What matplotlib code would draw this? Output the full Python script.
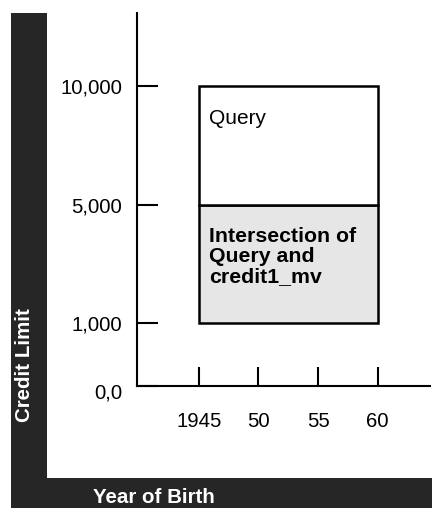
import numpy as np
import matplotlib
matplotlib.use("Agg")
import matplotlib.pyplot as plt
from matplotlib.patches import Rectangle
from matplotlib.transforms import ScaledTranslation

plt.rcParams['font.family'] = ['Liberation Sans', 'DejaVu Sans']

# ---- data ----
credit_levels = [0, 1000, 5000, 10000]
credit_labels = ["0,0", "1,000", "5,000", "10,000"]
year_ticks = [1945, 1950, 1955, 1960]
year_labels = ["1945", "50", "55", "60"]
query_years = (1945, 1960)
query_credit = (5000, 10000)
intersect_credit = (1000, 5000)
query_label = "Query"
intersect_label = "Intersection of\nQuery and\ncredit1_mv"
ylabel = "Credit Limit"
xlabel = "Year of Birth"

# ---- non-linear (ordinal-like) credit scale ----
level_pos = np.array([0.0, 0.53, 1.52, 2.52])
lv = np.array(credit_levels, float)


def fwd(v):
    v = np.asarray(v, float)
    return np.where(v <= lv[-1], np.interp(v, lv, level_pos),
                    level_pos[-1] + (v - lv[-1]) / 5000.0)


def inv(p):
    p = np.asarray(p, float)
    return np.where(p <= level_pos[-1], np.interp(p, level_pos, lv),
                    lv[-1] + (p - level_pos[-1]) * 5000.0)


W, H = 432, 508
fig = plt.figure(figsize=(W / 100, H / 100), dpi=100)
band = '#262626'

# black label bands
fig.add_artist(Rectangle((11 / W, 0), 35.5 / W, 1 - 13 / H, transform=fig.transFigure,
                         facecolor=band, edgecolor='none', zorder=0))
fig.add_artist(Rectangle((11 / W, 0), 1 - 11 / W, 30 / H, transform=fig.transFigure,
                         facecolor=band, edgecolor='none', zorder=0))
fig.text(25 / W, 1 - 365 / H, ylabel, rotation=90, color='white', fontsize=14.8,
         fontweight='bold', ha='center', va='center')
fig.text(93 / W, 1 - 502.7 / H, xlabel, color='white', fontsize=14.8,
         fontweight='bold', ha='left', va='baseline')

ax = fig.add_axes([137 / W, 1 - 386 / H, (430 - 137) / W, (386 - 13) / H])
ax.set_yscale('function', functions=(fwd, inv))
ax.set_xlim(1939.8, 1964.4)
ax.set_ylim(0, 13070)

for s in ['top', 'right']:
    ax.spines[s].set_visible(False)
for s in ['left', 'bottom']:
    ax.spines[s].set_linewidth(1.5)

w = query_years[1] - query_years[0]
ax.bar(query_years[0], intersect_credit[1] - intersect_credit[0], width=w,
       bottom=intersect_credit[0], align='edge', facecolor='#e6e6e6',
       edgecolor='black', linewidth=1.8, zorder=2)
ax.bar(query_years[0], query_credit[1] - query_credit[0], width=w,
       bottom=query_credit[0], align='edge', facecolor='white',
       edgecolor='black', linewidth=1.8, zorder=2)

ax.annotate(query_label, xy=(query_years[0], query_credit[1]), xytext=(10, -23),
            textcoords='offset pixels', fontsize=15, ha='left', va='top')
ax.annotate(intersect_label, xy=(query_years[0], intersect_credit[1]), xytext=(10, -22),
            textcoords='offset pixels', fontsize=15.3, fontweight='bold',
            ha='left', va='top', linespacing=1.05)

ax.set_xticks(year_ticks)
ax.set_xticklabels(year_labels)
ax.set_yticks(credit_levels)
ax.set_yticklabels(credit_labels)
ax.yaxis.set_minor_locator(matplotlib.ticker.NullLocator())
ax.tick_params(axis='x', direction='in', length=13.7, width=1.5, pad=18.5, labelsize=14.7)
ax.tick_params(axis='y', direction='in', length=15, width=1.5, pad=10.8, labelsize=14.7)

lab0 = ax.get_yticklabels()[0]
lab0.set_transform(lab0.get_transform() + ScaledTranslation(0, -5 / 100, fig.dpi_scale_trans))

fig.savefig('out.png', dpi=100)
